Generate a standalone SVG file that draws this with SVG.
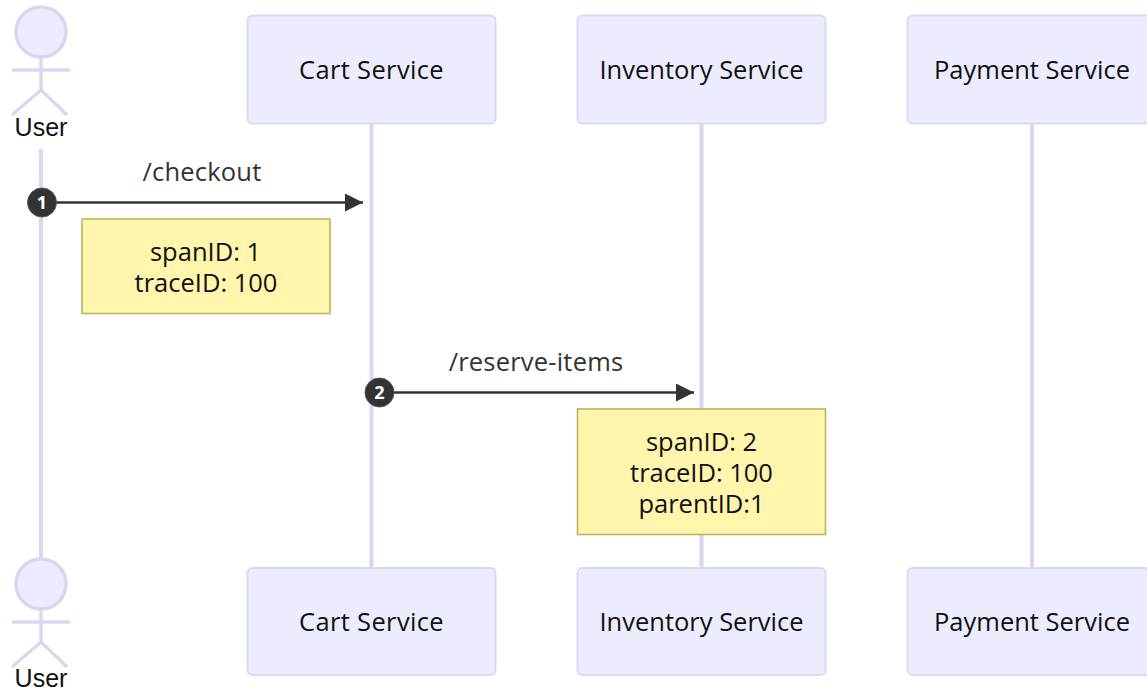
<svg xmlns="http://www.w3.org/2000/svg" width="1147" height="692" viewBox="0 0 1147 692">
<style>
text{font-family:"Open Sans","Noto Sans","DejaVu Sans",sans-serif;text-anchor:middle;font-size:25.5px;fill:#111}
.actor{font-family:"Liberation Sans",Arial,sans-serif;font-size:25px}
.box{fill:#ECECFF;stroke:#DBD9F2;stroke-width:2}
.life{stroke:#D9D7F0;stroke-width:4;fill:none}
.limb{stroke:#D9D7F0;stroke-width:3.5;fill:none}
.head{fill:#ECECFF;stroke:#D9D7F0;stroke-width:3.5}
.note{fill:#FFF5AD;stroke:#B9B762;stroke-width:1.6}
.msg{stroke:#333;stroke-width:2.6;fill:none;marker-end:url(#arrow)}
.lab{fill:#333;letter-spacing:.2px}
.seq{fill:#333;stroke:#555;stroke-width:1}
.num{fill:#fff;font-size:18px;font-weight:700}
</style>
<defs>
<marker id="arrow" markerUnits="userSpaceOnUse" markerWidth="19" markerHeight="18" refX="18" refY="9" orient="auto"><path d="M0 0L18 9L0 18Z" fill="#333"/></marker>
</defs>
<rect width="1147" height="692" fill="#fff"/>
<g id="lifelines">
<line class="life" x1="41" y1="149" x2="41" y2="560"/>
<line class="life" x1="371.500" y1="123" x2="371.500" y2="568"/>
<line class="life" x1="701.500" y1="123" x2="701.500" y2="568"/>
<line class="life" x1="1032" y1="123" x2="1032" y2="568"/>
</g>
<g id="user-top">
<circle class="head" cx="41" cy="32" r="25"/>
<path class="limb" d="M41 57V90M12 70H70M12 115L41 90L67 115"/>
<text class="actor" x="41" y="136">User</text>
</g>
<g id="cart-top"><rect class="box" x="247.500" y="15.500" width="248" height="108" rx="5"/><text x="371.500" y="79" letter-spacing=".35">Cart Service</text></g>
<g id="inventory-top"><rect class="box" x="577.500" y="15.500" width="248" height="108" rx="5"/><text x="701.500" y="79">Inventory Service</text></g>
<g id="payment-top"><rect class="box" x="907.500" y="15.500" width="248" height="108" rx="5"/><text x="1032" y="79">Payment Service</text></g>
<g id="connectors">
<line class="msg" x1="41" y1="202.500" x2="363" y2="202.500"/>
<line class="msg" x1="379" y1="392.500" x2="694" y2="392.500"/>
</g>
<text class="lab" x="202" y="181">/checkout</text>
<text class="lab" x="536" y="371">/reserve-items</text>
<g id="seq-1"><circle class="seq" cx="42" cy="202.500" r="14.500"/><text class="num" x="42" y="209">1</text></g>
<g id="seq-2"><circle class="seq" cx="379.500" cy="392.500" r="14.500"/><text class="num" x="379.500" y="399">2</text></g>
<g id="note-1"><rect class="note" x="82" y="219" width="248" height="94.500"/><text x="205.500" y="261">spanID: 1</text><text x="206" y="292">traceID: 100</text></g>
<g id="note-2"><rect class="note" x="577.500" y="409" width="248" height="125.500"/><text x="701.500" y="451">spanID: 2</text><text x="701.500" y="482">traceID: 100</text><text x="701.500" y="513">parentID:1</text></g>
<g id="user-bottom">
<circle class="head" cx="41" cy="584" r="25"/>
<path class="limb" d="M41 609V642M12 622H70M12 667L41 642L67 667"/>
<text class="actor" x="41" y="686.500">User</text>
</g>
<g id="cart-bottom"><rect class="box" x="247.500" y="568" width="248" height="107" rx="5"/><text x="371.500" y="631" letter-spacing=".35">Cart Service</text></g>
<g id="inventory-bottom"><rect class="box" x="577.500" y="568" width="248" height="107" rx="5"/><text x="701.500" y="631">Inventory Service</text></g>
<g id="payment-bottom"><rect class="box" x="907.500" y="568" width="248" height="107" rx="5"/><text x="1032" y="631">Payment Service</text></g>
</svg>
